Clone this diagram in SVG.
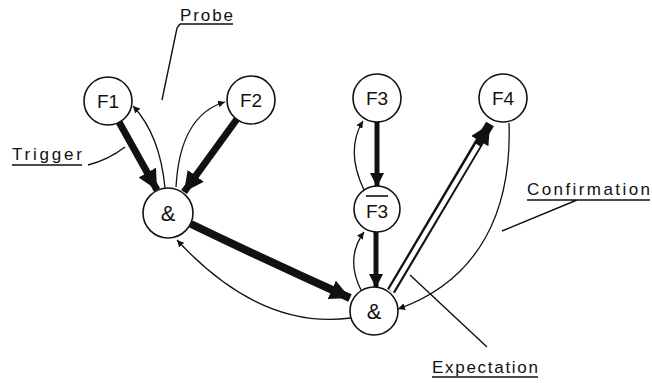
<svg xmlns="http://www.w3.org/2000/svg" width="652" height="383" viewBox="0 0 652 383">
<style>
.node circle{fill:#fff;stroke:#111;stroke-width:1.6}
.node text{font-family:"Liberation Sans",Arial,sans-serif;font-size:19px;fill:#111;text-anchor:middle}
.node text.amp{font-size:22px}
.lbl{font-family:"Liberation Sans",Arial,sans-serif;font-size:17px;fill:#111}
.thin{fill:none;stroke:#111;stroke-width:1.3}
.thick{fill:none;stroke:#111;stroke-linecap:butt}
.lead{fill:none;stroke:#111;stroke-width:1.4}
</style>
<defs>
<marker id="big" markerUnits="userSpaceOnUse" markerWidth="20" markerHeight="20" refX="16" refY="8" orient="auto" viewBox="0 0 16 16">
<path d="M0,0 L16,8 L0,16 Z" fill="#111"/>
</marker>
<marker id="med" markerUnits="userSpaceOnUse" markerWidth="14" markerHeight="14" refX="12" refY="6.5" orient="auto" viewBox="0 0 13 13">
<path d="M0,0 L13,6.5 L0,13 Z" fill="#111"/>
</marker>
<marker id="small" markerUnits="userSpaceOnUse" markerWidth="7" markerHeight="7" refX="6" refY="3" orient="auto" viewBox="0 0 6 6">
<path d="M0,0 L6,3 L0,6 Z" fill="#111"/>
</marker>
</defs>
<g id="connectors">
<path class="thick" d="M119,122 L157,190" stroke-width="7" marker-end="url(#big)"/>
<path class="thick" d="M237,119 L184,192" stroke-width="7" marker-end="url(#big)"/>
<path class="thin" d="M165,188 Q160,135 133,106" marker-end="url(#small)"/>
<path class="thin" d="M176,187 Q180,115 225,102" marker-end="url(#small)"/>
<path class="thick" d="M191,224 Q270,262 350,298" stroke-width="8" marker-end="url(#big)"/>
<path class="thin" d="M351,318 Q260,330 177,240" marker-end="url(#small)"/>
<path class="thick" d="M377,122 L377,186" stroke-width="5" marker-end="url(#med)"/>
<path class="thick" d="M376,232 L376,287" stroke-width="5" marker-end="url(#med)"/>
<path class="thin" d="M364,190 Q345,150 363,121" marker-end="url(#small)"/>
<path class="thin" d="M361,290 Q345,258 364,232" marker-end="url(#small)"/>
<path class="thick" d="M391,291 L490,124" stroke-width="9" marker-end="url(#big)"/>
<path d="M391,291 L478,145" stroke="#fff" stroke-width="4.5" fill="none"/>
<path class="thin" d="M509,123 C512,210 480,280 398,309" marker-end="url(#small)"/>
</g>
<g id="F1" class="node"><circle cx="108" cy="101" r="24"/><text x="108" y="108">F1</text></g>
<g id="F2" class="node"><circle cx="251" cy="100" r="24"/><text x="251" y="107">F2</text></g>
<g id="AND1" class="node"><circle cx="168" cy="213" r="25"/><text class="amp" x="168" y="221">&amp;</text></g>
<g id="F3" class="node"><circle cx="377" cy="98" r="24"/><text x="377" y="105">F3</text></g>
<g id="F4" class="node"><circle cx="503" cy="98" r="24"/><text x="503" y="105">F4</text></g>
<g id="F3bar" class="node"><circle cx="377" cy="209" r="23"/><text x="377" y="218">F3</text><line x1="366" y1="196" x2="388" y2="196" stroke="#111" stroke-width="1.6"/></g>
<g id="AND2" class="node"><circle cx="374" cy="311" r="24"/><text class="amp" x="374" y="319">&amp;</text></g>
<g id="labels">
<text class="lbl" x="180" y="21" textLength="53">Probe</text>
<path class="lead" d="M180,24 L233,24 M180,24 L177,28 L162,100"/>
<text class="lbl" x="12" y="160" textLength="70">Trigger</text>
<path class="lead" d="M12,165 L82,165 M88,165 Q108,160 125,147"/>
<text class="lbl" x="527" y="195" textLength="123">Confirmation</text>
<path class="lead" d="M527,200 L650,200 M577,200 L502,231"/>
<text class="lbl" x="432" y="373" textLength="106">Expectation</text>
<path class="lead" d="M432,377 L538,377 M487,347 L410,275"/>
</g>
</svg>
